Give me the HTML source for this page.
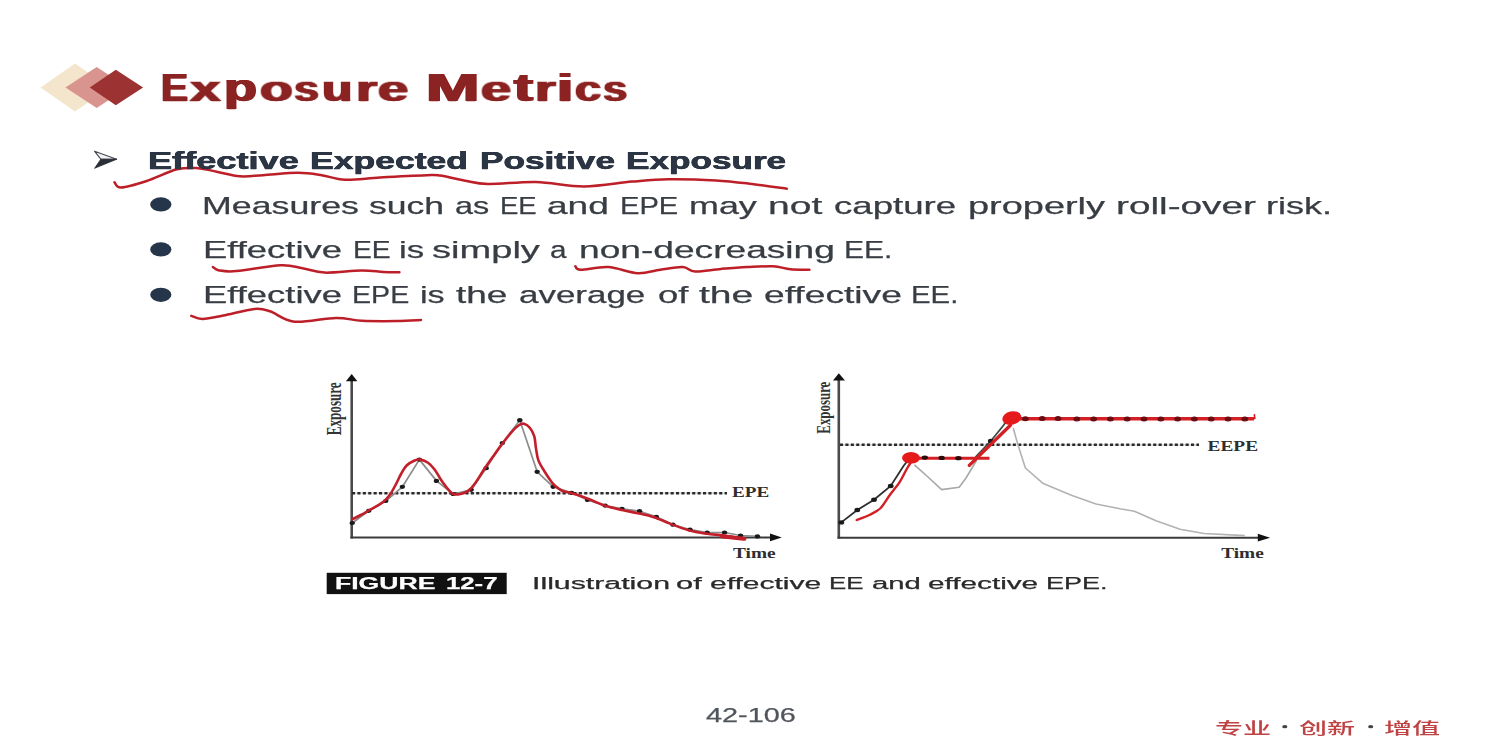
<!DOCTYPE html>
<html><head><meta charset="utf-8"><title>Exposure Metrics</title>
<style>
html,body{margin:0;padding:0;background:#fff;}
body{width:1500px;height:750px;position:relative;overflow:hidden;font-family:'Liberation Sans',sans-serif;}
.ov{position:absolute;left:0;top:0;}
.t{position:absolute;white-space:pre;line-height:1;transform-origin:0 0;-webkit-text-stroke:0.25px currentColor;will-change:transform;}
</style></head><body>

<svg class="ov" width="1500" height="750" viewBox="0 0 1500 750">
 <!-- header diamonds -->
 <polygon points="40.5,87.5 75,63.5 110,87.5 75,111.5" fill="#f4e6cc"/>
 <polygon points="65.5,87.5 96.7,67 128,87.5 96.7,108" fill="#d99490"/>
 <polygon points="89.8,87.5 115.8,69.7 143.1,87.5 115.8,105.3" fill="#9c3232"/>
 <!-- underlines -->
 <g fill="none" stroke="#bd1f29" stroke-width="2.5" stroke-linecap="round" stroke-linejoin="round">
  <path d="M114.5,182.2 C115.6,183.1 115.6,187.7 121.0,187.5 C126.4,187.3 137.4,184.0 146.7,181.0 C156.0,178.0 168.4,171.4 177.0,169.3 C185.6,167.2 191.4,167.8 198.0,168.2 C204.6,168.6 209.7,170.3 216.7,171.7 C223.7,173.0 232.3,175.7 240.0,176.3 C247.7,176.9 253.3,175.8 263.0,175.2 C272.7,174.6 288.2,172.8 298.0,172.8 C307.8,172.8 313.9,174.0 321.7,175.2 C329.5,176.4 335.3,179.4 345.0,179.8 C354.7,180.2 366.4,178.3 380.0,177.5 C393.6,176.7 416.7,175.5 426.7,175.2 C436.7,174.9 433.8,174.7 440.0,175.6 C446.2,176.5 456.0,179.0 464.0,180.4 C472.0,181.8 476.0,183.7 488.0,184.0 C500.0,184.3 520.0,181.6 536.0,182.0 C552.0,182.4 568.0,186.5 584.0,186.4 C600.0,186.3 618.0,182.8 632.0,181.6 C646.0,180.4 654.0,179.4 668.0,179.2 C682.0,179.0 702.0,179.6 716.0,180.4 C730.0,181.2 740.2,182.6 752.0,184.0 C763.8,185.4 781.0,188.0 786.8,188.8"/>
  <path d="M212.9,267.0 C213.9,267.6 215.0,269.7 219.0,270.4 C223.0,271.1 226.4,272.0 236.7,271.1 C247.0,270.2 269.6,265.8 280.6,265.3 C291.6,264.8 295.3,267.0 302.6,268.2 C309.9,269.4 314.8,272.2 324.6,272.6 C334.4,273.0 351.5,270.5 361.3,270.4 C371.1,270.3 377.0,271.6 383.3,271.9 C389.6,272.2 396.7,272.2 399.4,272.3"/>
  <path d="M575.4,266.3 C576.3,266.9 575.1,269.6 580.6,269.7 C586.1,269.8 598.8,266.5 608.3,267.1 C617.8,267.7 629.1,272.8 637.8,273.2 C646.5,273.6 652.8,270.7 660.3,269.7 C667.8,268.7 677.0,266.8 682.8,267.1 C688.6,267.4 688.6,271.2 695.0,271.5 C701.4,271.8 712.3,269.6 721.0,268.9 C729.7,268.2 738.3,267.5 747.0,267.1 C755.7,266.7 765.8,266.0 773.0,266.3 C780.2,266.6 784.2,268.6 790.3,269.2 C796.4,269.8 806.2,269.6 809.4,269.7"/>
  <path d="M191.3,315.9 C193.2,316.4 197.2,319.1 202.5,319.0 C207.8,318.9 214.6,317.3 223.3,315.6 C232.0,313.9 246.7,309.7 254.5,309.0 C262.3,308.3 263.4,309.2 270.0,311.3 C276.6,313.4 283.4,320.6 294.4,321.7 C305.4,322.8 324.7,318.0 336.0,317.9 C347.3,317.8 351.9,320.3 362.0,320.8 C372.1,321.3 386.8,321.2 396.6,321.1 C406.4,321.0 416.9,320.2 421.0,320.0"/>
 </g>
 <!-- left chart -->
 <g>
  <line x1="351.7" y1="380" x2="351.7" y2="538.5" stroke="#4a4a4a" stroke-width="2.6"/>
  <polygon points="345.9,381.2 351.7,374 357.4,381.2" fill="#111"/>
  <line x1="350.5" y1="537.6" x2="772" y2="537.6" stroke="#3a3a3a" stroke-width="2"/>
  <polygon points="770,533.6 781.8,537.5 770,541.3" fill="#111"/>
  <line x1="352" y1="493.2" x2="727" y2="493.2" stroke="#cfcfcf" stroke-width="1.2"/>
  <line x1="352" y1="493.2" x2="727" y2="493.2" stroke="#2a2a2a" stroke-width="2.6" stroke-dasharray="3.1 2.3"/>
  <polyline points="352.3,523.0 368.8,510.8 385.8,501.0 402.4,486.8 419.4,459.6 436.5,480.9 453.2,494.0 471.2,489.8 486.2,468.2 502.4,443.0 519.8,420.2 537.2,471.8 553.2,486.8 571.6,492.8 587.6,500.0 605.2,505.6 622.0,508.8 639.6,511.2 656.4,516.8 673.0,524.7 690.0,529.5 707.2,532.5 724.6,532.5 740.6,535.5 757.5,536.4" fill="none" stroke="#8c8c8c" stroke-width="1.7" stroke-linejoin="round"/>
  <ellipse cx="352.3" cy="523" rx="2.7" ry="2.1" fill="#1a1a1a"/><ellipse cx="368.8" cy="510.8" rx="2.7" ry="2.1" fill="#1a1a1a"/><ellipse cx="385.8" cy="501" rx="2.7" ry="2.1" fill="#1a1a1a"/><ellipse cx="402.4" cy="486.8" rx="2.7" ry="2.1" fill="#1a1a1a"/><ellipse cx="419.4" cy="459.6" rx="2.7" ry="2.1" fill="#1a1a1a"/><ellipse cx="436.5" cy="480.9" rx="2.7" ry="2.1" fill="#1a1a1a"/><ellipse cx="453.2" cy="494" rx="2.7" ry="2.1" fill="#1a1a1a"/><ellipse cx="471.2" cy="489.8" rx="2.7" ry="2.1" fill="#1a1a1a"/><ellipse cx="486.2" cy="468.2" rx="2.7" ry="2.1" fill="#1a1a1a"/><ellipse cx="502.4" cy="443" rx="2.7" ry="2.1" fill="#1a1a1a"/><ellipse cx="519.8" cy="420.2" rx="2.7" ry="2.1" fill="#1a1a1a"/><ellipse cx="537.2" cy="471.8" rx="2.7" ry="2.1" fill="#1a1a1a"/><ellipse cx="553.2" cy="486.8" rx="2.7" ry="2.1" fill="#1a1a1a"/><ellipse cx="571.6" cy="492.8" rx="2.7" ry="2.1" fill="#1a1a1a"/><ellipse cx="587.6" cy="500" rx="2.7" ry="2.1" fill="#1a1a1a"/><ellipse cx="605.2" cy="505.6" rx="2.7" ry="2.1" fill="#1a1a1a"/><ellipse cx="622" cy="508.8" rx="2.7" ry="2.1" fill="#1a1a1a"/><ellipse cx="639.6" cy="511.2" rx="2.7" ry="2.1" fill="#1a1a1a"/><ellipse cx="656.4" cy="516.8" rx="2.7" ry="2.1" fill="#1a1a1a"/><ellipse cx="673" cy="524.7" rx="2.7" ry="2.1" fill="#1a1a1a"/><ellipse cx="690" cy="529.5" rx="2.7" ry="2.1" fill="#1a1a1a"/><ellipse cx="707.2" cy="532.5" rx="2.7" ry="2.1" fill="#1a1a1a"/><ellipse cx="724.6" cy="532.5" rx="2.7" ry="2.1" fill="#1a1a1a"/><ellipse cx="740.6" cy="535.5" rx="2.7" ry="2.1" fill="#1a1a1a"/><ellipse cx="757.5" cy="536.4" rx="2.7" ry="2.1" fill="#1a1a1a"/>
  <path d="M352.3,519.3 C353.7,518.6 358.0,516.5 360.8,515.0 C363.6,513.5 366.3,511.9 369.3,510.2 C372.3,508.5 376.2,506.6 378.9,504.9 C381.6,503.2 383.4,502.0 385.3,500.1 C387.2,498.2 388.8,496.4 390.6,493.7 C392.4,491.0 394.2,487.5 396.0,484.1 C397.8,480.7 399.5,476.6 401.3,473.5 C403.1,470.4 404.5,467.6 406.6,465.5 C408.7,463.4 411.8,461.7 414.1,460.7 C416.4,459.7 418.2,459.2 420.5,459.6 C422.8,460.0 425.7,461.2 428.0,462.8 C430.3,464.4 432.4,466.7 434.4,469.2 C436.3,471.7 438.1,475.2 439.7,477.7 C441.3,480.2 442.6,482.2 444.0,484.1 C445.4,486.1 446.7,487.8 448.2,489.4 C449.7,491.0 451.2,493.2 453.2,494.0 C455.2,494.8 457.8,494.6 460.4,494.0 C463.0,493.4 466.2,492.4 468.8,490.4 C471.4,488.4 473.4,485.6 476.0,482.0 C478.6,478.4 481.6,473.0 484.4,468.8 C487.2,464.6 489.8,461.0 492.8,456.8 C495.8,452.6 499.2,447.8 502.4,443.6 C505.6,439.4 509.2,434.7 512.0,431.6 C514.8,428.5 517.2,426.3 519.2,425.0 C521.2,423.7 522.2,423.3 524.0,423.8 C525.8,424.3 528.3,425.9 530.0,428.0 C531.7,430.1 533.3,433.0 534.3,436.4 C535.3,439.8 535.3,444.4 536.0,448.4 C536.7,452.4 537.0,456.6 538.4,460.4 C539.8,464.2 542.2,467.6 544.4,471.2 C546.6,474.8 549.7,479.4 551.6,482.0 C553.5,484.6 554.3,485.0 556.0,486.5 C557.7,488.0 559.4,489.7 562.0,490.8 C564.6,491.9 568.3,492.3 571.6,493.2 C574.9,494.1 578.3,495.1 582.0,496.4 C585.7,497.7 590.0,499.6 594.0,501.2 C598.0,502.8 601.3,504.5 606.0,506.0 C610.7,507.5 616.7,508.8 622.0,510.0 C627.3,511.2 632.7,512.0 638.0,513.2 C643.3,514.4 648.7,515.5 654.0,517.2 C659.3,518.9 664.2,521.4 670.0,523.6 C675.8,525.8 682.5,528.6 688.6,530.3 C694.7,532.0 700.9,532.9 706.8,533.8 C712.7,534.7 717.9,534.6 724.1,535.5 C730.3,536.4 740.7,538.4 744.0,539.0" fill="none" stroke="#c21f2b" stroke-width="2.6" stroke-linecap="round" stroke-linejoin="round"/>
  <path d="M722,536.6 C730,537.2 738,538.2 744.5,538.8" fill="none" stroke="#c21f2b" stroke-width="4" stroke-linecap="round"/>
  <text transform="translate(341.1,435.2) scale(1.52,1) rotate(-90)" font-family="Liberation Serif, serif" font-weight="bold" font-size="13.1" fill="#333">Exposure</text>
  <text transform="translate(731.9,497) scale(1.4,1)" font-family="Liberation Serif, serif" font-weight="bold" font-size="13.7" fill="#2e2e2e">EPE</text>
  <text transform="translate(733,557.9) scale(1.38,1)" font-family="Liberation Serif, serif" font-weight="bold" font-size="14" fill="#2e2e2e">Time</text>
 </g>
 <!-- right chart -->
 <g>
  <line x1="838.8" y1="379" x2="838.8" y2="538.5" stroke="#4a4a4a" stroke-width="2.6"/>
  <polygon points="833,380.6 838.8,373.3 845,380.6" fill="#111"/>
  <line x1="837.5" y1="537.7" x2="1260" y2="537.7" stroke="#3a3a3a" stroke-width="2"/>
  <polygon points="1257.8,533.8 1270.1,537.7 1257.8,541.6" fill="#111"/>
  <line x1="840" y1="444.8" x2="1199" y2="444.8" stroke="#cfcfcf" stroke-width="1.2"/>
  <line x1="840" y1="444.8" x2="1199" y2="444.8" stroke="#2a2a2a" stroke-width="2.6" stroke-dasharray="3.1 2.3"/>
  <polyline points="914.4,464.8 928.0,477.0 941.6,489.6 959.2,487.2 966.0,478.0 972.0,468.0 976.8,460.0" fill="none" stroke="#a8a8a8" stroke-width="1.6" stroke-linejoin="round"/>
  <polyline points="1013.2,428.0 1018.0,445.0 1025.4,468.0 1043.2,483.6 1072.0,495.6 1096.0,504.0 1120.0,508.8 1134.4,511.2 1156.0,520.8 1180.0,529.2 1204.0,533.5 1244.8,535.6" fill="none" stroke="#b2b2b2" stroke-width="1.6" stroke-linejoin="round"/>
  <polyline points="841.3,522.4 857.3,510.0 874.0,499.7 890.7,486.0 903.5,466.0 909.0,459.0" fill="none" stroke="#2e2e2e" stroke-width="1.8"/>
  <polyline points="975.5,457.0 990.8,441.0 1003.0,426.0 1008.0,419.0" fill="none" stroke="#3c4a44" stroke-width="1.8"/>
  <ellipse cx="841.3" cy="522.4" rx="2.9" ry="2.2" fill="#1a1a1a"/><ellipse cx="857.3" cy="510" rx="2.9" ry="2.2" fill="#1a1a1a"/><ellipse cx="874" cy="499.7" rx="2.9" ry="2.2" fill="#1a1a1a"/><ellipse cx="890.7" cy="486" rx="2.9" ry="2.2" fill="#1a1a1a"/><ellipse cx="990.8" cy="441" rx="2.9" ry="2.2" fill="#1a1a1a"/>
  <line x1="915" y1="458.3" x2="989.5" y2="458.3" stroke="#d41f24" stroke-width="3"/>
  <ellipse cx="924.8" cy="457.6" rx="3.2" ry="2.1" fill="#2a0a0a"/><ellipse cx="941.6" cy="457.9" rx="3.2" ry="2.1" fill="#2a0a0a"/><ellipse cx="958.4" cy="458.2" rx="3.2" ry="2.1" fill="#2a0a0a"/>
  <line x1="1015" y1="418.7" x2="1254" y2="418.7" stroke="#d41f24" stroke-width="3.4"/>
  <path d="M1250.5,419.5 L1254.8,418.5 L1254.3,414.2" fill="none" stroke="#d41f24" stroke-width="1.6"/>
  <ellipse cx="1025.4" cy="418.8" rx="3.4" ry="2.5" fill="#6a0c12"/><ellipse cx="1042.2" cy="418.5" rx="3.4" ry="2.5" fill="#6a0c12"/><ellipse cx="1058" cy="418.5" rx="3.4" ry="2.5" fill="#6a0c12"/><ellipse cx="1076.8" cy="418.90000000000003" rx="3.4" ry="2.5" fill="#6a0c12"/><ellipse cx="1093.6" cy="418.90000000000003" rx="3.4" ry="2.5" fill="#6a0c12"/><ellipse cx="1110.3999999999999" cy="418.90000000000003" rx="3.4" ry="2.5" fill="#6a0c12"/><ellipse cx="1127.2" cy="418.90000000000003" rx="3.4" ry="2.5" fill="#6a0c12"/><ellipse cx="1144.0" cy="418.90000000000003" rx="3.4" ry="2.5" fill="#6a0c12"/><ellipse cx="1160.8" cy="418.90000000000003" rx="3.4" ry="2.5" fill="#6a0c12"/><ellipse cx="1177.6" cy="418.90000000000003" rx="3.4" ry="2.5" fill="#6a0c12"/><ellipse cx="1194.3999999999999" cy="418.90000000000003" rx="3.4" ry="2.5" fill="#6a0c12"/><ellipse cx="1211.2" cy="418.90000000000003" rx="3.4" ry="2.5" fill="#6a0c12"/><ellipse cx="1228.0" cy="418.90000000000003" rx="3.4" ry="2.5" fill="#6a0c12"/><ellipse cx="1244.8" cy="418.90000000000003" rx="3.4" ry="2.5" fill="#6a0c12"/>
  <path d="M856.7,520.0 C858.9,519.1 866.0,516.7 870.0,514.7 C874.0,512.7 877.4,511.3 880.7,508.0 C884.0,504.7 886.9,498.9 890.0,494.7 C893.1,490.5 896.4,487.1 899.3,482.7 C902.2,478.2 905.3,471.4 907.3,468.0 C909.3,464.6 910.6,463.0 911.2,462.0" fill="none" stroke="#d41f24" stroke-width="2.4" stroke-linecap="round"/>
  <polyline points="969.3,465.4 1010.4,425.2" fill="none" stroke="#d41f24" stroke-width="3.4" stroke-linecap="round"/>
  <ellipse cx="911" cy="457.8" rx="9" ry="5.8" fill="#e51a1a"/>
  <ellipse cx="1011.8" cy="418" rx="9.6" ry="6.6" fill="#e51a1a" transform="rotate(-14 1011.8 418)"/>
  <text transform="translate(829.7,433.7) scale(1.52,1) rotate(-90)" font-family="Liberation Serif, serif" font-weight="bold" font-size="12.9" fill="#333">Exposure</text>
  <text transform="translate(1207.6,450.5) scale(1.38,1)" font-family="Liberation Serif, serif" font-weight="bold" font-size="14" fill="#2e2e2e">EEPE</text>
  <text transform="translate(1221.2,558.1) scale(1.38,1)" font-family="Liberation Serif, serif" font-weight="bold" font-size="14" fill="#2e2e2e">Time</text>
 </g>
 <!-- caption -->
 <rect x="326.7" y="572.8" width="180" height="21.3" fill="#111"/>
 <ellipse cx="1284.8" cy="726.7" rx="2.6" ry="1.6" fill="#444"/>
 <ellipse cx="1370.7" cy="726.7" rx="2.6" ry="1.6" fill="#444"/>
 <!-- bullets -->
 <ellipse cx="160.8" cy="204.4" rx="10.6" ry="7.1" fill="#26364a"/>
 <ellipse cx="160.8" cy="249.4" rx="10.6" ry="7.1" fill="#26364a"/>
 <ellipse cx="160.8" cy="294.8" rx="10.6" ry="7.1" fill="#26364a"/>
 <!-- arrow bullet -->
 <path d="M94.6,151.3 L116.6,159.2 L100.8,159.2 Z" fill="#f2f3f4" stroke="#45484d" stroke-width="1.1" stroke-linejoin="round"/>
 <path d="M100.8,159.2 L116.8,159.2 L94.6,168.3 Z" fill="#2a2e36" stroke="#2a2e36" stroke-width="0.8" stroke-linejoin="round"/>
</svg>

<div class="t" style="left:160.81px;top:68.2px;font-size:39px;font-weight:bold;color:#8c2323;transform:scaleX(1.0411);text-shadow:0.95px 0 0 currentColor,-0.95px 0 0 currentColor;">E</div>
<div class="t" style="left:190.19px;top:68.2px;font-size:39px;font-weight:bold;color:#8c2323;transform-origin:0 33.01px;transform:scale(1.4074,0.920);text-shadow:0.95px 0 0 currentColor,-0.95px 0 0 currentColor;">x</div>
<div class="t" style="left:224.03px;top:68.2px;font-size:39px;font-weight:bold;color:#8c2323;transform:scaleX(1.3849);text-shadow:0.95px 0 0 currentColor,-0.95px 0 0 currentColor;">p</div>
<div class="t" style="left:259.92px;top:68.2px;font-size:39px;font-weight:bold;color:#8c2323;transform-origin:0 33.01px;transform:scale(1.3688,0.920);text-shadow:0.95px 0 0 currentColor,-0.95px 0 0 currentColor;">o</div>
<div class="t" style="left:294.10px;top:68.2px;font-size:39px;font-weight:bold;color:#8c2323;transform-origin:0 33.01px;transform:scale(1.1547,0.920);text-shadow:0.95px 0 0 currentColor,-0.95px 0 0 currentColor;">s</div>
<div class="t" style="left:322.06px;top:68.2px;font-size:39px;font-weight:bold;color:#8c2323;transform-origin:0 33.01px;transform:scale(1.2762,0.920);text-shadow:0.95px 0 0 currentColor,-0.95px 0 0 currentColor;">u</div>
<div class="t" style="left:355.61px;top:68.2px;font-size:39px;font-weight:bold;color:#8c2323;transform-origin:0 33.01px;transform:scale(1.3998,0.920);text-shadow:0.95px 0 0 currentColor,-0.95px 0 0 currentColor;">r</div>
<div class="t" style="left:378.31px;top:68.2px;font-size:39px;font-weight:bold;color:#8c2323;transform-origin:0 33.01px;transform:scale(1.3932,0.920);text-shadow:0.95px 0 0 currentColor,-0.95px 0 0 currentColor;">e</div>
<div class="t" style="left:425.94px;top:68.2px;font-size:39px;font-weight:bold;color:#8c2323;transform:scaleX(1.6455);text-shadow:0.95px 0 0 currentColor,-0.95px 0 0 currentColor;">M</div>
<div class="t" style="left:480.92px;top:68.2px;font-size:39px;font-weight:bold;color:#8c2323;transform-origin:0 33.01px;transform:scale(1.3864,0.920);text-shadow:0.95px 0 0 currentColor,-0.95px 0 0 currentColor;">e</div>
<div class="t" style="left:514.15px;top:68.2px;font-size:39px;font-weight:bold;color:#8c2323;transform:scaleX(1.4554);text-shadow:0.95px 0 0 currentColor,-0.95px 0 0 currentColor;">t</div>
<div class="t" style="left:534.82px;top:68.2px;font-size:39px;font-weight:bold;color:#8c2323;transform-origin:0 33.01px;transform:scale(1.3714,0.920);text-shadow:0.95px 0 0 currentColor,-0.95px 0 0 currentColor;">r</div>
<div class="t" style="left:557.22px;top:68.2px;font-size:39px;font-weight:bold;color:#8c2323;transform:scaleX(1.4942);text-shadow:0.95px 0 0 currentColor,-0.95px 0 0 currentColor;">i</div>
<div class="t" style="left:574.75px;top:68.2px;font-size:39px;font-weight:bold;color:#8c2323;transform-origin:0 33.01px;transform:scale(1.2099,0.920);text-shadow:0.95px 0 0 currentColor,-0.95px 0 0 currentColor;">c</div>
<div class="t" style="left:603.11px;top:68.2px;font-size:39px;font-weight:bold;color:#8c2323;transform-origin:0 33.01px;transform:scale(1.1184,0.920);text-shadow:0.95px 0 0 currentColor,-0.95px 0 0 currentColor;">s</div>
<div class="t" style="left:147.57px;top:148.5px;font-size:24.5px;font-weight:bold;color:#2b3543;transform:scaleX(1.4772);text-shadow:0.35px 0 0 currentColor,-0.35px 0 0 currentColor;">Effective</div>
<div class="t" style="left:309.75px;top:148.5px;font-size:24.5px;font-weight:bold;color:#2b3543;transform:scaleX(1.4505);text-shadow:0.35px 0 0 currentColor,-0.35px 0 0 currentColor;">Expected</div>
<div class="t" style="left:479.95px;top:148.5px;font-size:24.5px;font-weight:bold;color:#2b3543;transform:scaleX(1.4369);text-shadow:0.35px 0 0 currentColor,-0.35px 0 0 currentColor;">Positive</div>
<div class="t" style="left:626.17px;top:148.5px;font-size:24.5px;font-weight:bold;color:#2b3543;transform:scaleX(1.4341);text-shadow:0.35px 0 0 currentColor,-0.35px 0 0 currentColor;">Exposure</div>
<div class="t" style="left:201.91px;top:193.8px;font-size:24px;font-weight:normal;color:#383d44;transform:scaleX(1.4895);">Measures</div>
<div class="t" style="left:368.96px;top:193.8px;font-size:24px;font-weight:normal;color:#383d44;transform:scaleX(1.4805);">such</div>
<div class="t" style="left:455.13px;top:193.8px;font-size:24px;font-weight:normal;color:#383d44;transform:scaleX(1.3497);">as</div>
<div class="t" style="left:499.61px;top:193.8px;font-size:24px;font-weight:normal;color:#383d44;transform:scaleX(1.1454);">EE</div>
<div class="t" style="left:547.16px;top:193.8px;font-size:24px;font-weight:normal;color:#383d44;transform:scaleX(1.5451);">and</div>
<div class="t" style="left:619.67px;top:193.8px;font-size:24px;font-weight:normal;color:#383d44;transform:scaleX(1.2119);">EPE</div>
<div class="t" style="left:689.14px;top:193.8px;font-size:24px;font-weight:normal;color:#383d44;transform:scaleX(1.4950);">may</div>
<div class="t" style="left:767.94px;top:193.8px;font-size:24px;font-weight:normal;color:#383d44;transform:scaleX(1.6255);">not</div>
<div class="t" style="left:833.98px;top:193.8px;font-size:24px;font-weight:normal;color:#383d44;transform:scaleX(1.5254);">capture</div>
<div class="t" style="left:967.97px;top:193.8px;font-size:24px;font-weight:normal;color:#383d44;transform:scaleX(1.5796);">properly</div>
<div class="t" style="left:1116.17px;top:193.8px;font-size:24px;font-weight:normal;color:#383d44;transform:scaleX(1.6144);">roll-over</div>
<div class="t" style="left:1265.81px;top:193.8px;font-size:24px;font-weight:normal;color:#383d44;transform:scaleX(1.5032);">risk.</div>
<div class="t" style="left:203.09px;top:238.1px;font-size:24.5px;font-weight:normal;color:#383d44;transform:scaleX(1.4861);">Effective</div>
<div class="t" style="left:352.61px;top:238.1px;font-size:24.5px;font-weight:normal;color:#383d44;transform:scaleX(1.1521);">EE</div>
<div class="t" style="left:398.64px;top:238.1px;font-size:24.5px;font-weight:normal;color:#383d44;transform:scaleX(1.4208);">is</div>
<div class="t" style="left:431.99px;top:238.1px;font-size:24.5px;font-weight:normal;color:#383d44;transform:scaleX(1.5541);">simply</div>
<div class="t" style="left:550.14px;top:238.1px;font-size:24.5px;font-weight:normal;color:#383d44;transform:scaleX(1.2105);">a</div>
<div class="t" style="left:578.97px;top:238.1px;font-size:24.5px;font-weight:normal;color:#383d44;transform:scaleX(1.5152);">non-decreasing</div>
<div class="t" style="left:843.80px;top:238.1px;font-size:24.5px;font-weight:normal;color:#383d44;transform:scaleX(1.2253);">EE.</div>
<div class="t" style="left:202.88px;top:282.6px;font-size:24.5px;font-weight:normal;color:#383d44;transform:scaleX(1.4861);">Effective</div>
<div class="t" style="left:351.88px;top:282.6px;font-size:24.5px;font-weight:normal;color:#383d44;transform:scaleX(1.1669);">EPE</div>
<div class="t" style="left:419.68px;top:282.6px;font-size:24.5px;font-weight:normal;color:#383d44;transform:scaleX(1.3945);">is</div>
<div class="t" style="left:455.98px;top:282.6px;font-size:24.5px;font-weight:normal;color:#383d44;transform:scaleX(1.5068);">the</div>
<div class="t" style="left:518.58px;top:282.6px;font-size:24.5px;font-weight:normal;color:#383d44;transform:scaleX(1.4264);">average</div>
<div class="t" style="left:658.36px;top:282.6px;font-size:24.5px;font-weight:normal;color:#383d44;transform:scaleX(1.4862);">of</div>
<div class="t" style="left:698.81px;top:282.6px;font-size:24.5px;font-weight:normal;color:#383d44;transform:scaleX(1.5956);">the</div>
<div class="t" style="left:764.19px;top:282.6px;font-size:24.5px;font-weight:normal;color:#383d44;transform:scaleX(1.5189);">effective</div>
<div class="t" style="left:911.03px;top:282.6px;font-size:24.5px;font-weight:normal;color:#383d44;transform:scaleX(1.2003);">EE.</div>
<div class="t" style="left:335.19px;top:576px;font-size:16px;font-weight:bold;color:#ffffff;transform:scaleX(1.6601);">FIGURE</div>
<div class="t" style="left:445.96px;top:576px;font-size:16px;font-weight:bold;color:#ffffff;transform:scaleX(1.6083);">12-7</div>
<div class="t" style="left:531.94px;top:576px;font-size:16px;font-weight:normal;color:#2a2a2a;transform:scaleX(1.8921);">Illustration</div>
<div class="t" style="left:675.96px;top:576px;font-size:16px;font-weight:normal;color:#2a2a2a;transform:scaleX(1.9290);">of</div>
<div class="t" style="left:709.98px;top:576px;font-size:16px;font-weight:normal;color:#2a2a2a;transform:scaleX(1.8740);">effective</div>
<div class="t" style="left:828.62px;top:576px;font-size:16px;font-weight:normal;color:#2a2a2a;transform:scaleX(1.6113);">EE</div>
<div class="t" style="left:871.92px;top:576px;font-size:16px;font-weight:normal;color:#2a2a2a;transform:scaleX(1.8293);">and</div>
<div class="t" style="left:928.19px;top:576px;font-size:16px;font-weight:normal;color:#2a2a2a;transform:scaleX(1.8572);">effective</div>
<div class="t" style="left:1045.85px;top:576px;font-size:16px;font-weight:normal;color:#2a2a2a;transform:scaleX(1.6856);">EPE.</div>
<div class="t" style="left:706.40px;top:705.7px;font-size:19.5px;font-weight:normal;color:#50555c;transform:scaleX(1.4784);">42-106</div>
<div class="t" style="left:1214.6px;top:720.5px;font-size:15.6px;font-weight:500;color:#bf4343;transform:scaleX(1.80);font-family:'Liberation Sans','Noto Sans CJK SC',sans-serif;-webkit-text-stroke:0">专业</div>
<div class="t" style="left:1298.6px;top:720.5px;font-size:15.6px;font-weight:500;color:#bf4343;transform:scaleX(1.80);font-family:'Liberation Sans','Noto Sans CJK SC',sans-serif;-webkit-text-stroke:0">创新</div>
<div class="t" style="left:1383.6px;top:720.5px;font-size:15.6px;font-weight:500;color:#bf4343;transform:scaleX(1.80);font-family:'Liberation Sans','Noto Sans CJK SC',sans-serif;-webkit-text-stroke:0">增值</div>
</body></html>
